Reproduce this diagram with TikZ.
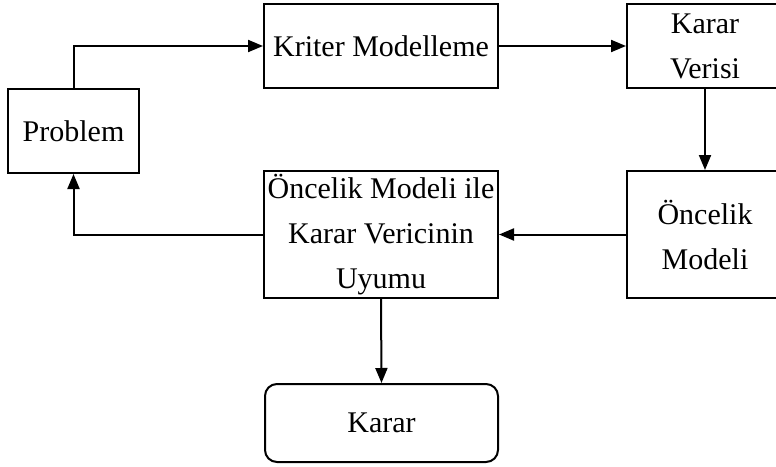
\documentclass[tikz,border=0pt]{standalone}
\usepackage{fontspec}
\setmainfont{Liberation Serif}
\usetikzlibrary{arrows.meta}

\begin{document}
\begin{tikzpicture}[x=0.5pt,y=-0.5pt,
  box/.style={draw,line width=1pt,align=center,inner sep=0pt,
    font=\fontsize{15}{22.5}\selectfont},
  arr/.style={line width=1pt,-{Triangle[length=7.5pt,width=6pt]}}]

\useasboundingbox (0,0) rectangle (776,466);
\clip (0,0) rectangle (776,466);

\node[box,minimum width=65.5pt,minimum height=42pt] (problem) at (73.5,131) {Problem};
\node[box,minimum width=117pt,minimum height=42pt] (kriter) at (381,46) {Kriter Modelleme};
\node[box,minimum width=78pt,minimum height=42pt] (verisi) at (705,46) {Karar\\Verisi};
\node[box,minimum width=78pt,minimum height=63.5pt] (oncelik) at (705,234.5) {Öncelik\\Modeli};
\node[box,minimum width=117pt,minimum height=63.5pt] (uyum) at (381,234.5) {Öncelik Modeli ile\\Karar Vericinin\\Uyumu};
\node[box,rounded corners=6pt,minimum width=116.5pt,minimum height=39pt] (karar) at (381.5,423) {Karar};

\draw[arr] (problem.north) |- (kriter.west);
\draw[arr] (kriter.east) -- (verisi.west);
\draw[arr] (verisi.south) -- (oncelik.north);
\draw[arr] (oncelik.west) -- (uyum.east);
\draw[arr] (uyum.west) -| (problem.south);
\draw[arr] (uyum.south) -- (karar.north);

\end{tikzpicture}
\end{document}
